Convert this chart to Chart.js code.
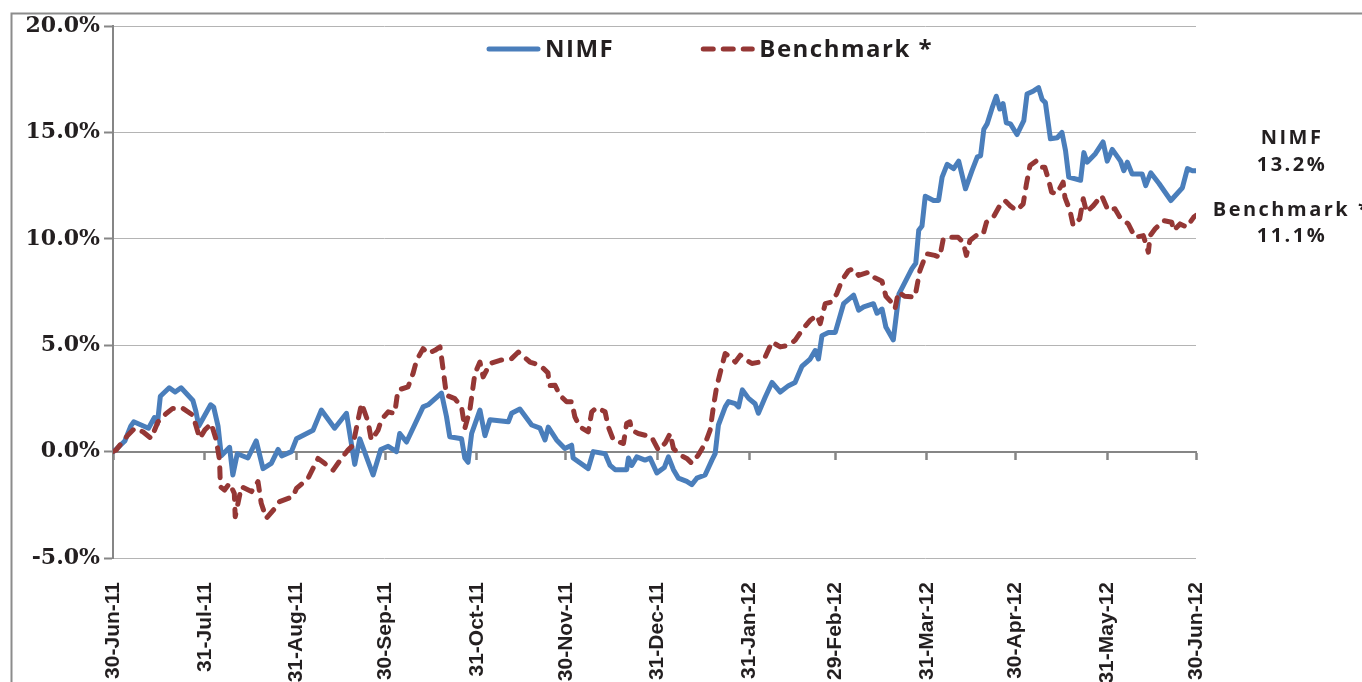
<!DOCTYPE html>
<html>
<head>
<meta charset="utf-8">
<script src="https://cdn.jsdelivr.net/npm/chart.js@4.4.1/dist/chart.umd.min.js"></script>
<style>
html,body{margin:0;padding:0;background:#fff;}
canvas{display:block;}
</style>
</head>
<body>
<canvas id="c" width="1362" height="682"></canvas>
<script>
// ---- DATA (x = calendar days after 30-Jun-11, y = cumulative return %) ----
const tickDays = [0,31,62,92,123,153,184,215,244,275,305,336,366];
const tickLabels = ['30-Jun-11','31-Jul-11','31-Aug-11','30-Sep-11','31-Oct-11','30-Nov-11','31-Dec-11','31-Jan-12','29-Feb-12','31-Mar-12','30-Apr-12','31-May-12','30-Jun-12'];

const nimfDays = [0,1,4,6,7,12,14,15,16,19,
21,23,27,28,29,33,34,35.5,36.6,39.4,
40.5,42,45.6,48.4,50.7,53.5,55.8,57,60.3,62,
67.6,70.4,74.9,78.9,81.7,83.4,87.9,90.5,93,95.8,
96.9,99.2,104.8,106.5,111,112.7,113.8,117.8,118.9,120,
121.2,124,125.7,127.4,133.6,134.7,137.5,141.5,144.3,146,
147.1,149.9,152.7,155,155.5,160.6,162.3,166.3,168,169.7,
173.6,174.2,175.3,177,179.8,181.5,183.8,186.3,187.7,189.4,
191.1,193.9,195.6,197.3,200.1,202.4,203.5,204.6,206.9,208,
210.3,211.4,212.7,214.8,217,218.1,220.4,222.7,225.5,228.3,
230.5,232.8,235.6,237.3,238.4,239.6,241.8,244.1,246.9,250.3,
252,253.7,257,258.2,259.9,261.2,263.7,265.6,270,271.3,
272.3,273.4,274.5,277.3,279,280.2,281.9,284.1,285.8,288.1,
290.3,292.1,293.2,294.3,295.4,297.1,298.5,299.7,300.8,301.9,
303.3,305.5,307.8,308.9,311.1,312.8,314,315.1,316.8,319.1,
320.7,321.9,323,327,328.1,329.2,332,334.6,336,337.7,
340.5,341.6,342.8,344.4,347.8,349,350.7,353.5,357.5,361.4,
363.1,364.8,366];
const nimfValues = [0,0.1,0.5,1.2,1.4,1.1,1.6,1.3,2.6,3.0,
2.8,3.0,2.4,1.9,1.2,2.2,2.1,1.2,-0.2,0.2,
-1.1,-0.1,-0.3,0.5,-0.8,-0.55,0.1,-0.2,0.0,0.6,
1.0,1.95,1.1,1.8,-0.6,0.6,-1.1,0.1,0.25,0.0,
0.85,0.45,2.1,2.2,2.75,1.65,0.7,0.6,-0.3,-0.5,
0.85,1.95,0.75,1.5,1.4,1.8,2.0,1.25,1.1,0.55,
1.15,0.55,0.15,0.3,-0.3,-0.8,0.0,-0.1,-0.65,-0.85,
-0.85,-0.3,-0.65,-0.25,-0.4,-0.3,-1.0,-0.75,-0.25,-0.85,
-1.25,-1.4,-1.55,-1.25,-1.1,-0.4,-0.1,1.25,2.1,2.35,
2.25,2.1,2.9,2.5,2.25,1.8,2.55,3.25,2.8,3.1,
3.25,4.0,4.35,4.75,4.35,5.45,5.6,5.6,6.95,7.35,
6.65,6.8,6.95,6.5,6.7,5.85,5.25,7.4,8.6,8.85,
10.4,10.6,12.0,11.8,11.8,12.9,13.5,13.3,13.65,12.35,
13.2,13.85,13.9,15.15,15.4,16.15,16.7,16.1,16.35,15.45,
15.4,14.9,15.55,16.8,16.95,17.1,16.55,16.4,14.7,14.75,
15.0,14.15,12.9,12.75,14.05,13.6,14.0,14.55,13.65,14.2,
13.65,13.2,13.6,13.05,13.05,12.5,13.1,12.6,11.8,12.4,
13.3,13.2,13.2];

const benchDays = [0,1,5,7.3,10.1,12.9,15.2,18,20.2,23.6,
27,29.3,31,33.2,34.9,36,36.3,37.7,39.4,41,
41.3,43.4,46.8,49,50.1,51.8,55.2,56.3,60.8,62,
65.9,69.3,71.5,74.4,77.2,79.4,81.1,82.8,84,86.2,
87.3,89.6,90.7,93,95.2,96.3,99.7,101.4,102.6,104.8,
106.5,108.8,110.5,111,112.7,115.5,117.8,118.9,120.6,122.3,
124,125.1,127.4,130.8,134.7,137,140.9,144.3,147,147.5,
149.4,151,153.3,155,156.1,157.8,160.6,161.8,163.5,166.3,
167.4,169.1,172.5,173.6,174.7,175.3,177.5,182,184.3,186.6,
188.3,189.4,191.6,193.9,195.6,197.8,200.1,201.8,202.9,204,
205.7,206.9,208.6,210.3,212,214.2,215.9,218.7,220.4,222.7,
225.5,228.3,230.5,232.8,235.6,237.9,239,240.7,242.9,244.6,
246.3,248.6,250.3,252,255.4,257,259.9,261.2,263.2,264.3,
265.4,267.5,271,272.7,274.9,277.7,279.4,280.6,282.8,285.6,
287.3,288.4,289.6,292.4,294.1,295.2,297.5,299.7,301.4,303.1,
305.4,307.6,308.7,309.9,312.1,313.8,314.9,316.1,317.2,318.9,
321.1,321.7,323.4,324.5,326.7,327.9,329,331.3,334.1,336.3,
338.6,340.3,343.1,345.4,348.2,349.9,350.5,352.2,355,357.8,
358.4,360.6,362.9,365.2,366];
const benchValues = [0,0.07,0.77,1.09,0.93,0.62,1.4,1.79,2.03,2.03,
1.71,0.62,1.01,1.32,0.54,-0.4,-1.65,-1.81,-1.49,-1.96,
-3.06,-1.65,-1.88,-1.41,-2.43,-3.13,-2.59,-2.35,-2.12,-1.73,
-1.26,-0.32,-0.55,-0.87,-0.32,0.07,0.3,1.48,2.26,1.4,
0.54,1.01,1.5,1.87,1.79,2.89,3.04,3.67,4.29,4.84,
4.61,4.76,4.92,4.45,2.65,2.49,2.1,1.09,1.95,3.67,
4.21,3.51,4.14,4.29,4.37,4.68,4.21,4.06,3.7,3.1,
3.12,2.65,2.34,2.34,1.63,1.16,0.93,1.87,2.07,1.87,
1.16,0.54,0.38,1.32,1.4,1.01,0.85,0.69,0.07,0.4,
0.85,0.15,-0.16,-0.32,-0.55,-0.16,0.38,1.01,2.1,3.04,
3.98,4.61,4.45,4.21,4.53,4.29,4.14,4.21,4.45,5.15,
4.92,5.0,5.23,5.7,6.17,6.4,6.01,6.95,7.03,7.42,
8.04,8.51,8.59,8.28,8.43,8.2,8.0,7.3,7.0,6.72,
7.5,7.3,7.26,8.51,9.3,9.22,9.14,10.0,10.07,10.07,
9.84,9.22,9.92,10.23,10.23,10.78,11.01,11.56,11.8,11.56,
11.33,11.64,12.58,13.44,13.67,13.36,13.36,12.81,12.19,12.11,
12.66,11.95,11.33,10.62,10.94,11.88,11.25,11.56,12.03,11.33,
11.41,11.01,10.7,10.07,10.15,9.37,10.15,10.47,10.86,10.78,
10.39,10.7,10.55,11.01,11.1];

const seriesNames = ['NIMF', 'Benchmark *'];
const endValueLabels = ['13.2%', '11.1%'];

// ---- STYLE ----
const BLUE = '#4a7ebb';
const RED = '#953735';
const AXIS = '#868686';
const GRID = '#b4b4b4';
const TEXT = '#231f20';

function zip(xs, ys){ return xs.map((x,i)=>({x:x, y:ys[i]})); }

const setMonthTicks = (scale) => { scale.ticks = tickDays.map(v => ({value: v})); };

const decorPlugin = {
  id: 'decor',
  beforeDraw(chart){
    const ctx = chart.ctx;
    ctx.save();
    ctx.fillStyle = '#ffffff';
    ctx.fillRect(0,0,chart.width,chart.height);
    ctx.strokeStyle = '#8c8c8c';
    ctx.lineWidth = 2;
    ctx.strokeRect(11.5, 13.5, chart.width + 40, chart.height + 40);
    ctx.restore();
  },
  afterDraw(chart){
    const ctx = chart.ctx;
    const area = chart.chartArea;
    const ds = chart.data.datasets;
    const ys = chart.scales.y;
    // legend
    ctx.save();
    const ly = area.top + 23;
    let lx = area.left + 374;
    ctx.font = 'bold 24px "Open Sans", "DejaVu Sans", sans-serif';
    ctx.letterSpacing = '1.5px';
    ctx.textBaseline = 'middle';
    ctx.textAlign = 'left';
    ds.forEach((d, i) => {
      ctx.save();
      ctx.strokeStyle = d.borderColor;
      ctx.lineWidth = d.borderWidth;
      ctx.lineCap = 'round';
      ctx.setLineDash(d.borderDash || []);
      ctx.beginPath();
      ctx.moveTo(lx + 2, ly);
      ctx.lineTo(lx + 51, ly);
      ctx.stroke();
      ctx.restore();
      ctx.fillStyle = TEXT;
      ctx.fillText(d.label, lx + 58, ly + 1);
      const w = ctx.measureText(d.label).width;
      lx = lx + 58 + w + 87;
    });
    // end labels
    ctx.font = 'bold 20px "Open Sans", "DejaVu Sans", sans-serif';
    ctx.letterSpacing = '2.5px';
    ctx.textAlign = 'center';
    const cx = area.right + 96;
    const offsets = [[-32, -5], [-5, 21]];
    ds.forEach((d, i) => {
      const last = d.data[d.data.length - 1];
      const py = ys.getPixelForValue(last.y);
      ctx.fillStyle = TEXT;
      ctx.fillText(d.label, cx, py + offsets[i][0]);
      ctx.fillText(endValueLabels[i], cx, py + offsets[i][1]);
    });
    ctx.restore();
  }
};

new Chart(document.getElementById('c'), {
  type: 'line',
  data: {
    datasets: [
      {
        label: seriesNames[0],
        data: zip(nimfDays, nimfValues),
        borderColor: BLUE,
        borderWidth: 5,
        borderJoinStyle: 'round',
        borderCapStyle: 'round',
        pointRadius: 0,
        tension: 0,
        order: 1
      },
      {
        label: seriesNames[1],
        data: zip(benchDays, benchValues),
        borderColor: RED,
        borderWidth: 5,
        borderDash: [10, 10],
        borderJoinStyle: 'round',
        borderCapStyle: 'round',
        pointRadius: 0,
        tension: 0,
        order: 0
      }
    ]
  },
  options: {
    responsive: false,
    animation: false,
    devicePixelRatio: 1,
    layout: { padding: { left: 0, top: 26, right: 166, bottom: 0 } },
    plugins: { legend: { display: false }, tooltip: { enabled: false } },
    scales: {
      x: {
        type: 'linear',
        position: 'bottom',
        min: 0, max: 366,
        afterBuildTicks: setMonthTicks,
        afterFit(scale){ scale.height = 124; },
        grid: { display: false, drawTicks: false },
        border: { display: false },
        ticks: {
          autoSkip: false,
          minRotation: 90, maxRotation: 90,
          padding: 24,
          color: TEXT,
          font: { family: '"Liberation Sans Narrow", "Liberation Sans", sans-serif', size: 21, weight: 'bold' },
          callback: (v, i) => tickLabels[i]
        }
      },
      x0: {
        type: 'linear',
        position: { y: 0 },
        min: 0, max: 366,
        afterBuildTicks: setMonthTicks,
        grid: { display: true, drawOnChartArea: false, drawTicks: true, tickLength: 7, tickColor: AXIS, tickWidth: 2.5 },
        border: { display: true, color: AXIS, width: 2 },
        ticks: { display: false }
      },
      y: {
        min: -5, max: 20,
        afterFit(scale){ scale.width = 113; },
        grid: { color: GRID, lineWidth: 1, drawTicks: true, tickLength: 9, tickColor: AXIS, tickWidth: 2 },
        border: { display: true, color: AXIS, width: 2 },
        ticks: {
          stepSize: 5,
          padding: 4,
          color: TEXT,
          font: { family: '"DejaVu Serif", serif', size: 22, weight: 'bold' },
          callback: v => v.toFixed(1) + '%'
        }
      }
    }
  },
  plugins: [decorPlugin]
});
</script>
</body>
</html>
